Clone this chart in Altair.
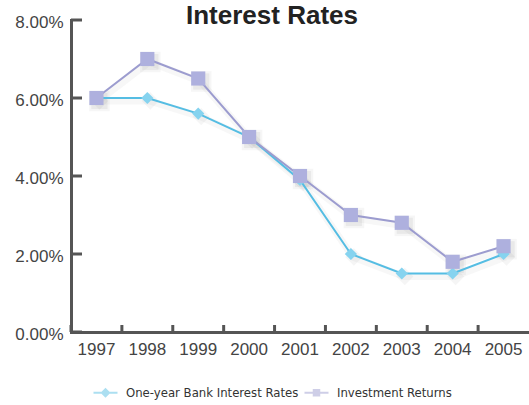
import altair as alt
import pandas as pd

years = ["1997", "1998", "1999", "2000", "2001", "2002", "2003", "2004", "2005"]
bank = [6.0, 6.0, 5.6, 5.0, 3.9, 2.0, 1.5, 1.5, 2.0]
invest = [6.0, 7.0, 6.5, 5.0, 4.0, 3.0, 2.8, 1.8, 2.2]
series_names = ["One-year Bank Interest Rates", "Investment Returns"]
y_ticks = [0, 2, 4, 6, 8]

rows = []
for yr, b, i in zip(years, bank, invest):
    rows.append({"year": yr, "series": series_names[0], "value": b / 100})
    rows.append({"year": yr, "series": series_names[1], "value": i / 100})
df = pd.DataFrame(rows)
tick_df = pd.DataFrame({"value": [t / 100 for t in y_ticks]})
year_df = pd.DataFrame({"year": years})

AX = "#555555"
BLUE = "#55bde3"
BLUE_PT = "#86d3ef"
PURP = "#9c9ccf"
PURP_PT = "#aeb0de"

xs = alt.Scale(type="band", domain=years, paddingInner=0, paddingOuter=0)
ys = alt.Scale(domain=[0, 0.08], nice=False, zero=True)

x_axis = alt.Axis(title=None, labelAngle=0, ticks=False, labelPadding=9,
                  labelFontSize=17, labelFont="Liberation Sans", labelColor="#444444",
                  domainWidth=3, domainColor=AX, grid=False)
y_axis = alt.Axis(title=None, values=[t / 100 for t in y_ticks], format=".2%",
                  ticks=False, labelPadding=8, labelFontSize=17,
                  labelFont="Liberation Sans", labelColor="#444444",
                  domainWidth=3, domainColor=AX, grid=False, labelBaseline="middle", labelOffset=2)

X = alt.X("year:N", scale=xs, axis=x_axis)
Y = alt.Y("value:Q", scale=ys, axis=y_axis)

base = alt.Chart(df)
bank_df = base.transform_filter(alt.datum.series == series_names[0])
inv_df = base.transform_filter(alt.datum.series == series_names[1])

layers = []
# soft shadows
for src in (bank_df, inv_df):
    layers.append(src.mark_line(strokeWidth=7, color="#999999", opacity=0.08, xOffset=2, yOffset=3)
                  .encode(x=X, y=Y))
layers.append(bank_df.mark_point(shape="diamond", filled=True, size=300, color="#999999",
                                 opacity=0.10, xOffset=3, yOffset=3).encode(x=X, y=Y))
layers.append(inv_df.mark_point(shape="square", filled=True, size=420, color="#999999",
                                opacity=0.09, xOffset=3, yOffset=3).encode(x=X, y=Y))
layers.append(inv_df.mark_point(shape="square", filled=True, size=260, color="#888888",
                                opacity=0.12, xOffset=3, yOffset=3).encode(x=X, y=Y))
# lines
layers.append(bank_df.mark_line(strokeWidth=2, color=BLUE).encode(x=X, y=Y))
layers.append(inv_df.mark_line(strokeWidth=2, color=PURP).encode(x=X, y=Y))
# markers
layers.append(bank_df.mark_point(shape="diamond", filled=True, size=150, color=BLUE_PT,
                                 opacity=1).encode(x=X, y=Y))
layers.append(inv_df.mark_point(shape="square", filled=True, size=200, color=PURP_PT,
                                opacity=1).encode(x=X, y=Y))

# inward ticks
layers.append(alt.Chart(tick_df).mark_rule(color=AX, strokeWidth=3).encode(
    y=Y, x=alt.value(0), x2=alt.value(11)))
layers.append(alt.Chart(year_df).mark_rule(color=AX, strokeWidth=3).encode(
    x=alt.X("year:N", scale=xs, axis=x_axis, bandPosition=0),
    y=alt.value(312), y2=alt.value(305)))

# legend carrier (no visible marks; legend comes from the explicit scale domain)
legend_paths = [
    "M-2.4,-0.2H2.4V0.2H-2.4Z M0,-1L1,0L0,1L-1,0Z",
    "M-2.4,-0.2H2.4V0.2H-2.4Z M-0.75,-0.75H0.75V0.75H-0.75Z",
]
layers.append(base.transform_filter(alt.datum.value < 0).mark_point(filled=True).encode(
    x=X, y=Y,
    color=alt.Color("series:N", scale=alt.Scale(domain=series_names, range=[BLUE, PURP]),
                    legend=alt.Legend(title=None, orient="none", legendX=28, legendY=366,
                                      direction="horizontal", symbolSize=100,
                                      symbolOpacity=1, symbolStrokeWidth=0,
                                      labelOffset=14, columnPadding=5, labelLimit=400,
                                      labelFont="Liberation Sans Narrow, DejaVu Sans Condensed, Liberation Sans",
                                      labelFontSize=13, labelColor="#333333")),
    shape=alt.Shape("series:N", scale=alt.Scale(domain=series_names, range=legend_paths))))

chart = alt.layer(*layers).properties(
    width=458, height=312,
    title=alt.TitleParams("Interest Rates", fontSize=26, fontWeight="bold",
                          font="Liberation Sans", color="#222222", anchor="middle",
                          frame="group", dx=-28, dy=20),
    autosize=alt.AutoSizeParams(type="none"),
    padding={"left": 71, "top": 20, "right": 0, "bottom": 73},
).configure_view(stroke=None).configure_axisX(domainCap="square").configure_axisY(domainCap="square")

chart.save("out.html", embed_options={"renderer": "svg", "actions": False})
